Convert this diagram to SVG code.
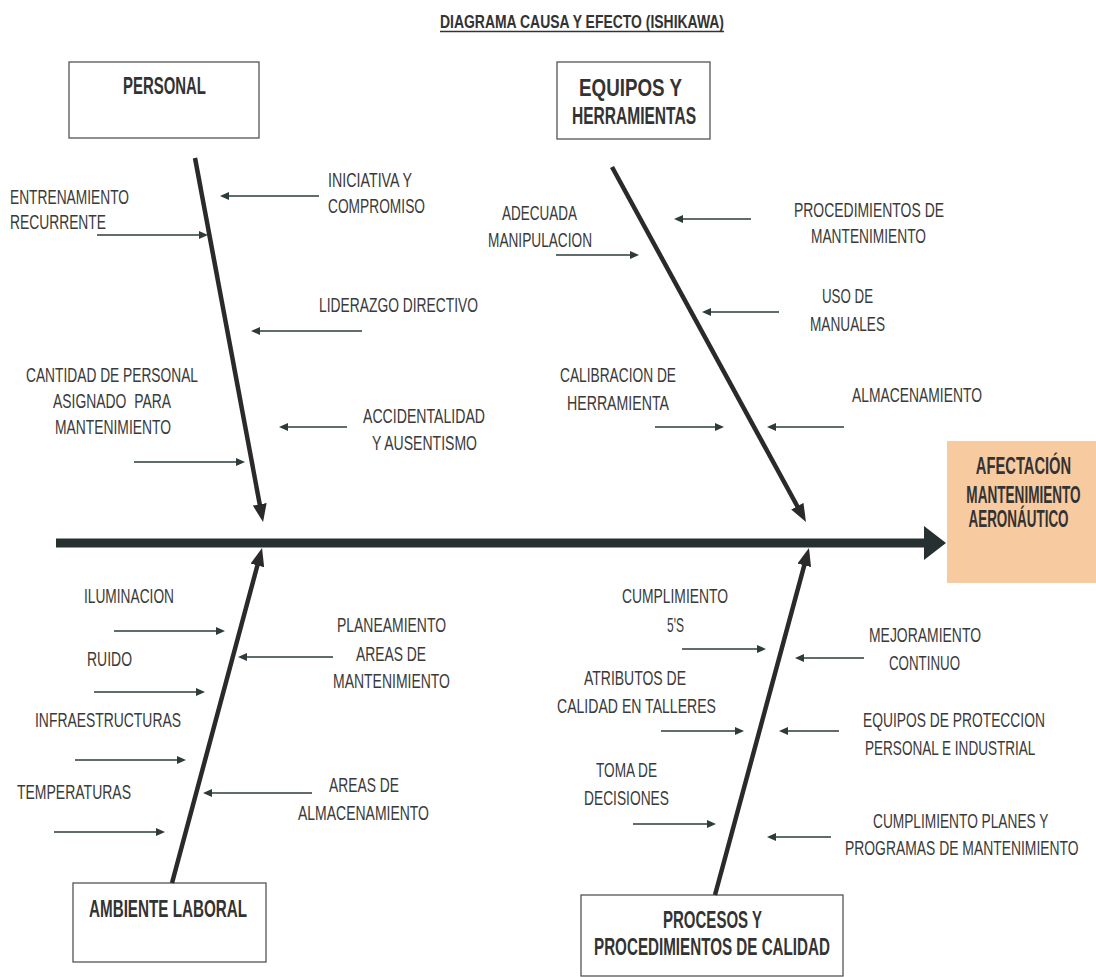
<svg xmlns="http://www.w3.org/2000/svg" width="1096" height="977" viewBox="0 0 1096 977">
<style>
.t{font-family:"Liberation Sans",Arial,sans-serif;font-size:21px;fill:#3a3a3a}
.b{font-family:"Liberation Sans",Arial,sans-serif;font-size:23px;font-weight:bold;fill:#333}
.box{fill:#fff;stroke:#555;stroke-width:1.3}
.a{stroke:#2d3b3b;stroke-width:1.7;fill:none;marker-end:url(#sa)}
.bone{stroke:#2a2a2a;stroke-width:4.5;fill:none;marker-end:url(#ba)}
</style>
<defs>
<marker id="sa" markerUnits="userSpaceOnUse" viewBox="0 0 9 8" refX="1" refY="4" markerWidth="9" markerHeight="8" orient="auto"><path d="M0,0 L9,4 L0,8 z" fill="#2d3b3b"/></marker>
<marker id="ba" markerUnits="userSpaceOnUse" viewBox="0 0 18 14" refX="2" refY="7" markerWidth="18" markerHeight="14" orient="auto"><path d="M0,0 L18,7 L0,14 z" fill="#2a2a2a"/></marker>
</defs>
<rect width="1096" height="977" fill="#fff"/>
<g id="title">
<text class="b" style="font-size:18px" x="440" y="28" textLength="284" lengthAdjust="spacingAndGlyphs">DIAGRAMA CAUSA Y EFECTO (ISHIKAWA)</text>
<line x1="440" y1="31.5" x2="724" y2="31.5" stroke="#333" stroke-width="1.4"/>
</g>
<g id="personal">
<rect class="box" x="69" y="62" width="190" height="76"/>
<text class="b" x="123" y="94" textLength="83" lengthAdjust="spacingAndGlyphs">PERSONAL</text>
</g>
<g id="equipos">
<rect class="box" x="557" y="62" width="153" height="77"/>
<text class="b" x="579" y="96" textLength="103" lengthAdjust="spacingAndGlyphs">EQUIPOS Y</text>
<text class="b" x="572" y="124" textLength="124" lengthAdjust="spacingAndGlyphs">HERRAMIENTAS</text>
</g>
<g id="ambiente">
<rect class="box" x="73" y="883" width="193" height="79"/>
<text class="b" x="89" y="917" textLength="158" lengthAdjust="spacingAndGlyphs">AMBIENTE LABORAL</text>
</g>
<g id="procesos">
<rect class="box" x="581" y="895" width="262" height="81"/>
<text class="b" x="663" y="928" textLength="99" lengthAdjust="spacingAndGlyphs">PROCESOS Y</text>
<text class="b" x="594" y="955" textLength="236" lengthAdjust="spacingAndGlyphs">PROCEDIMIENTOS DE CALIDAD</text>
</g>
<g id="efecto">
<rect x="947" y="441" width="149" height="142" fill="#f8caa0"/>
<text class="b" text-anchor="middle" transform="translate(1023.5,474) scale(0.64,1)">AFECTACIÓN</text>
<text class="b" text-anchor="middle" transform="translate(1023.5,503) scale(0.59,1)">MANTENIMIENTO</text>
<text class="b" text-anchor="middle" transform="translate(1018.5,527) scale(0.585,1)">AERONÁUTICO</text>
</g>
<g id="connectors">
<line x1="56" y1="543" x2="927" y2="543" stroke="#263030" stroke-width="9"/>
<polygon points="924,526 946,543 924,560" fill="#263030"/>
<line class="bone" x1="195" y1="158" x2="260.1" y2="506.3"/>
<line class="bone" x1="612" y1="167" x2="798.3" y2="508"/>
<line class="bone" x1="172" y1="883" x2="257.9" y2="563.5"/>
<line class="bone" x1="715" y1="895" x2="804.8" y2="563.4"/>
<line class="a" x1="97" y1="235" x2="200" y2="235"/>
<line class="a" x1="319" y1="196" x2="228" y2="196"/>
<line class="a" x1="362" y1="331" x2="259" y2="331"/>
<line class="a" x1="134" y1="462" x2="237" y2="462"/>
<line class="a" x1="347" y1="427" x2="287" y2="427"/>
<line class="a" x1="556" y1="255" x2="631" y2="255"/>
<line class="a" x1="751" y1="219" x2="682" y2="219"/>
<line class="a" x1="779" y1="312" x2="710" y2="312"/>
<line class="a" x1="655" y1="427" x2="716" y2="427"/>
<line class="a" x1="844" y1="427" x2="775" y2="427"/>
<line class="a" x1="114" y1="631" x2="217" y2="631"/>
<line class="a" x1="94" y1="692" x2="197" y2="692"/>
<line class="a" x1="75" y1="760" x2="178" y2="760"/>
<line class="a" x1="54" y1="832" x2="157" y2="832"/>
<line class="a" x1="333" y1="657" x2="246" y2="657"/>
<line class="a" x1="312" y1="793" x2="211" y2="793"/>
<line class="a" x1="682" y1="649" x2="758" y2="649"/>
<line class="a" x1="864" y1="658" x2="803" y2="658"/>
<line class="a" x1="661" y1="731" x2="736" y2="731"/>
<line class="a" x1="839" y1="731" x2="787" y2="731"/>
<line class="a" x1="633" y1="824" x2="708" y2="824"/>
<line class="a" x1="831" y1="837" x2="775" y2="837"/>
</g>
<g id="causas-personal">
<text class="t" x="10" y="204" textLength="119" lengthAdjust="spacingAndGlyphs">ENTRENAMIENTO</text>
<text class="t" x="10" y="229" textLength="96" lengthAdjust="spacingAndGlyphs">RECURRENTE</text>
<text class="t" x="328" y="187" textLength="84" lengthAdjust="spacingAndGlyphs">INICIATIVA Y</text>
<text class="t" x="328" y="213" textLength="97" lengthAdjust="spacingAndGlyphs">COMPROMISO</text>
<text class="t" x="319" y="312" textLength="159" lengthAdjust="spacingAndGlyphs">LIDERAZGO DIRECTIVO</text>
<text class="t" x="26" y="382" textLength="172" lengthAdjust="spacingAndGlyphs">CANTIDAD DE PERSONAL</text>
<text class="t" x="53" y="408" textLength="118" lengthAdjust="spacingAndGlyphs" xml:space="preserve">ASIGNADO  PARA</text>
<text class="t" x="55" y="434" textLength="116" lengthAdjust="spacingAndGlyphs">MANTENIMIENTO</text>
<text class="t" x="363" y="423" textLength="122" lengthAdjust="spacingAndGlyphs">ACCIDENTALIDAD</text>
<text class="t" x="372" y="450" textLength="105" lengthAdjust="spacingAndGlyphs">Y AUSENTISMO</text>
</g>
<g id="causas-equipos">
<text class="t" x="502" y="220" textLength="75" lengthAdjust="spacingAndGlyphs">ADECUADA</text>
<text class="t" x="488" y="247" textLength="104" lengthAdjust="spacingAndGlyphs">MANIPULACION</text>
<text class="t" x="794" y="217" textLength="150" lengthAdjust="spacingAndGlyphs">PROCEDIMIENTOS DE</text>
<text class="t" x="811" y="243" textLength="115" lengthAdjust="spacingAndGlyphs">MANTENIMIENTO</text>
<text class="t" x="822" y="303" textLength="51" lengthAdjust="spacingAndGlyphs">USO DE</text>
<text class="t" x="810" y="331" textLength="75" lengthAdjust="spacingAndGlyphs">MANUALES</text>
<text class="t" x="560" y="382" textLength="116" lengthAdjust="spacingAndGlyphs">CALIBRACION DE</text>
<text class="t" x="567" y="410" textLength="102" lengthAdjust="spacingAndGlyphs">HERRAMIENTA</text>
<text class="t" x="852" y="402" textLength="130" lengthAdjust="spacingAndGlyphs">ALMACENAMIENTO</text>
</g>
<g id="causas-ambiente">
<text class="t" x="84" y="603" textLength="90" lengthAdjust="spacingAndGlyphs">ILUMINACION</text>
<text class="t" x="87" y="666" textLength="45" lengthAdjust="spacingAndGlyphs">RUIDO</text>
<text class="t" x="35" y="727" textLength="146" lengthAdjust="spacingAndGlyphs">INFRAESTRUCTURAS</text>
<text class="t" x="17" y="799" textLength="114" lengthAdjust="spacingAndGlyphs">TEMPERATURAS</text>
<text class="t" x="337" y="632" textLength="109" lengthAdjust="spacingAndGlyphs">PLANEAMIENTO</text>
<text class="t" x="356" y="661" textLength="70" lengthAdjust="spacingAndGlyphs">AREAS DE</text>
<text class="t" x="333" y="688" textLength="117" lengthAdjust="spacingAndGlyphs">MANTENIMIENTO</text>
<text class="t" x="329" y="792" textLength="70" lengthAdjust="spacingAndGlyphs">AREAS DE</text>
<text class="t" x="298" y="820" textLength="131" lengthAdjust="spacingAndGlyphs">ALMACENAMIENTO</text>
</g>
<g id="causas-procesos">
<text class="t" x="622" y="603" textLength="106" lengthAdjust="spacingAndGlyphs">CUMPLIMIENTO</text>
<text class="t" x="667" y="632" textLength="17" lengthAdjust="spacingAndGlyphs">5'S</text>
<text class="t" x="869" y="642" textLength="112" lengthAdjust="spacingAndGlyphs">MEJORAMIENTO</text>
<text class="t" x="889" y="670" textLength="71" lengthAdjust="spacingAndGlyphs">CONTINUO</text>
<text class="t" x="584" y="685" textLength="102" lengthAdjust="spacingAndGlyphs">ATRIBUTOS DE</text>
<text class="t" x="557" y="713" textLength="159" lengthAdjust="spacingAndGlyphs">CALIDAD EN TALLERES</text>
<text class="t" transform="translate(863,727) scale(0.658,1)">EQUIPOS DE PROTECCION</text>
<text class="t" transform="translate(865,755) scale(0.646,1)">PERSONAL E INDUSTRIAL</text>
<text class="t" x="596" y="777" textLength="61" lengthAdjust="spacingAndGlyphs">TOMA DE</text>
<text class="t" x="584" y="805" textLength="85" lengthAdjust="spacingAndGlyphs">DECISIONES</text>
<text class="t" transform="translate(873,828) scale(0.653,1)">CUMPLIMIENTO PLANES Y</text>
<text class="t" transform="translate(845,855) scale(0.662,1)">PROGRAMAS DE MANTENIMIENTO</text>
</g>
</svg>
